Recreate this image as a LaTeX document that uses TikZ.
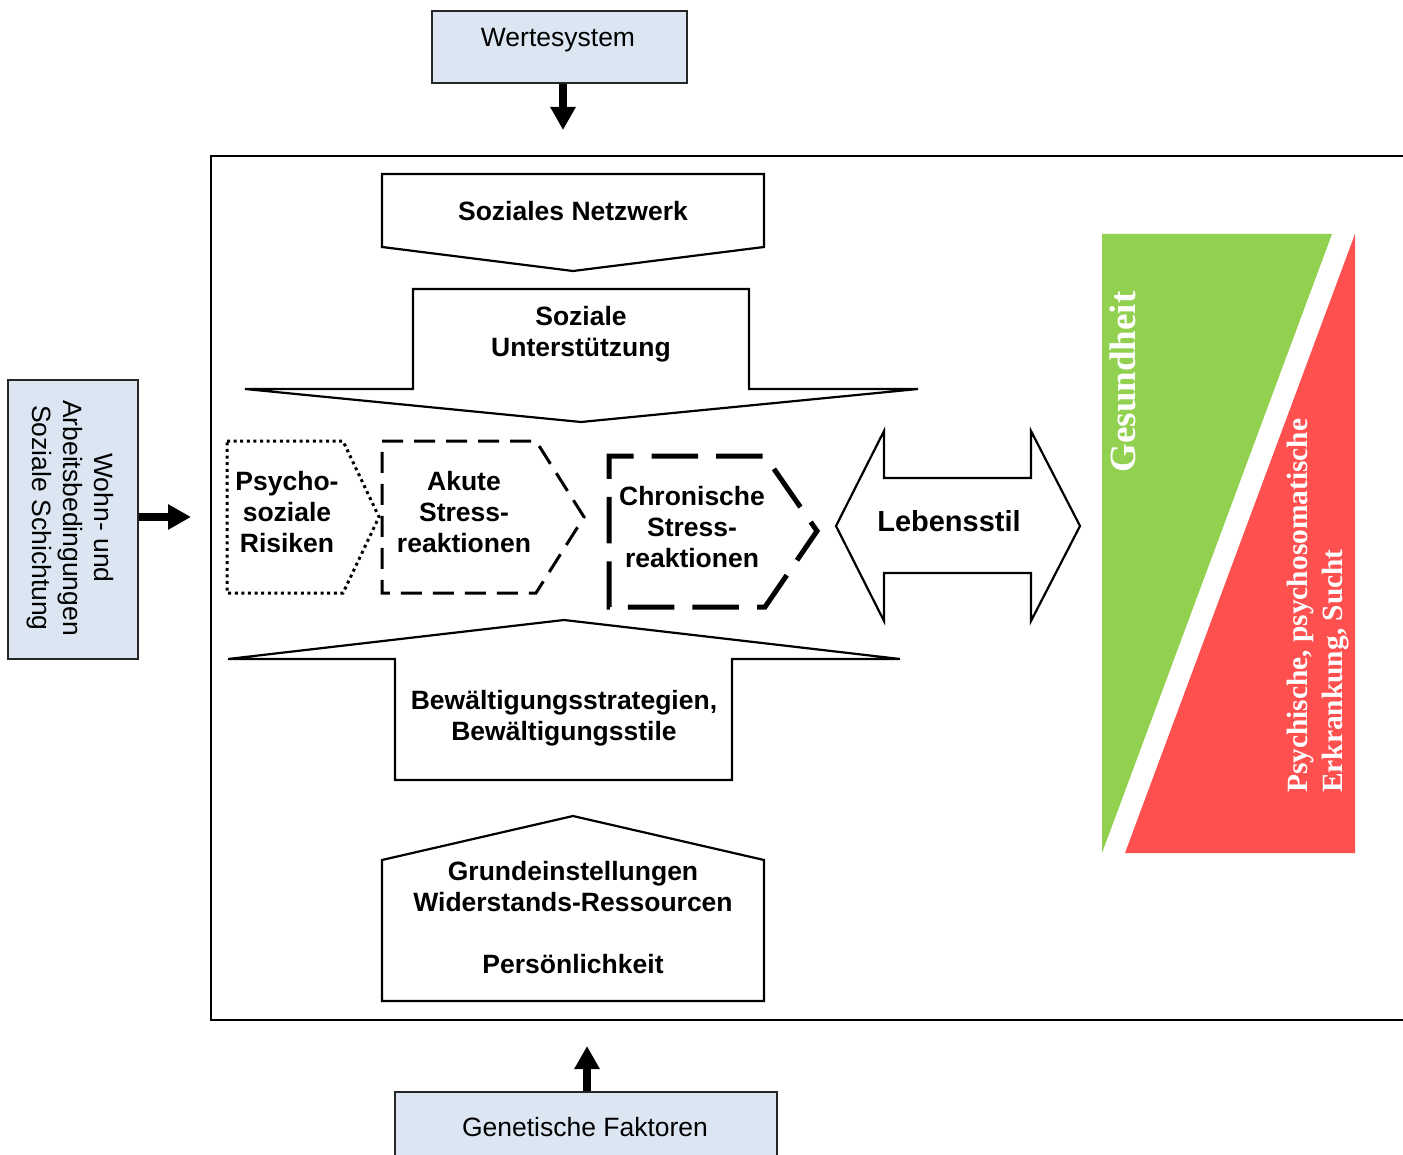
\documentclass[tikz,border=0pt]{standalone}
\usepackage{fontspec}
\setmainfont{Liberation Sans}
\newfontfamily\timesf{Liberation Serif}
\usetikzlibrary{arrows.meta}
\definecolor{boxblue}{HTML}{DCE6F2}
\definecolor{gruen}{HTML}{92D050}
\definecolor{rotfarbe}{HTML}{FF5050}
\begin{document}
\begin{tikzpicture}[x=1pt,y=-1pt,
 shp/.style={draw=black,line width=2.2pt,line join=miter},
 lbl/.style={font=\fontsize{26.5}{31}\selectfont\bfseries,align=center,inner sep=0pt},
 plain/.style={font=\fontsize{26.5}{31}\selectfont,align=center,inner sep=0pt},
 bluebox/.style={draw=black!85,line width=2pt,fill=boxblue,inner sep=0pt},
 fat/.style={line width=7.5pt,-{Triangle[length=23pt,width=24pt]}},
 serifw/.style={text=white,inner sep=0pt,align=left},
]
\useasboundingbox (0,0) rectangle (1403,1155);

% outer frame (open to the right)
\draw[line width=2pt] (1410,156) -- (211,156) -- (211,1020) -- (1410,1020);
\coordinate (frameTop) at (563,130);
\coordinate (frameLeft) at (191,517);
\coordinate (frameBottom) at (587,1046);

% outside boxes
\node[bluebox,minimum width=255pt,minimum height=72pt,anchor=north west] (wert) at (431,10) {};
\node[plain] (wertT) at (558,40) {Wertesystem};
\node[bluebox,minimum width=130pt,minimum height=279pt,anchor=north west] (wohn) at (7,379) {};
\node[plain,rotate=-90] (wohnT) at (70,518) {Wohn- und\\Arbeitsbedingungen\\Soziale Schichtung};
\node[bluebox,minimum width=382pt,minimum height=75pt,anchor=north west] (gen) at (394,1091) {};
\node[plain] (genT) at (585,1127) {Genetische Faktoren};

% arrows into the frame
\draw[fat] (wert.south -| frameTop) -- (frameTop);
\draw[fat] (wohn.east |- frameLeft) -- (frameLeft);
\draw[fat] (gen.north -| frameBottom) -- (frameBottom);

% Soziales Netzwerk
\draw[shp] (382,174) -- (764,174) -- (764,247) -- (573,271) -- (382,247) -- cycle;
\node[lbl] (netz) at (573,211) {Soziales Netzwerk};

% Soziale Unterstuetzung
\draw[shp] (413,289) -- (749,289) -- (749,389) -- (918,389) -- (581,422) -- (245,389) -- (413,389) -- cycle;
\node[lbl] (unter) at (581,334) {Soziale\\Unterstützung};

% Psychosoziale Risiken
\draw[line width=3pt,dash pattern=on 3pt off 3.6pt] (227,441) -- (343,441) -- (379,517) -- (343,593) -- (227,593) -- cycle;
\node[lbl] (psycho) at (287,512) {Psycho-\\soziale\\Risiken};

% Akute Stressreaktionen
\draw[line width=3pt,dash pattern=on 21pt off 11pt] (382,441) -- (536,441) -- (584,517) -- (536,593) -- (382,593) -- cycle;
\node[lbl] (akut) at (464,512) {Akute\\Stress-\\reaktionen};

% Chronische Stressreaktionen
\draw[line width=5pt,dash pattern=on 46.5pt off 18.06pt] (609,478) -- (609,456) -- (765,456) -- (817,531) -- (765,607) -- (609,607) -- cycle;
\node[lbl] (chron) at (692,527) {Chronische\\Stress-\\reaktionen};

% Lebensstil
\draw[shp] (836,526) -- (884,431) -- (884,478) -- (1031,478) -- (1031,431) -- (1080,526) -- (1031,621) -- (1031,573) -- (884,573) -- (884,621) -- cycle;
\node[lbl,font=\fontsize{29}{33}\selectfont\bfseries] (leben) at (949,521) {Lebensstil};

% Bewaeltigung
\draw[shp] (564,620) -- (900,659) -- (732,659) -- (732,780) -- (395,780) -- (395,659) -- (228,659) -- cycle;
\node[lbl] (bew) at (564,718) {Bewältigungsstrategien,\\Bewältigungsstile};

% Grundeinstellungen
\draw[shp] (382,860) -- (573,816) -- (764,860) -- (764,1001) -- (382,1001) -- cycle;
\node[lbl] (grund) at (573,918) {Grundeinstellungen\\Widerstands-Ressourcen\\[31pt]Persönlichkeit};

% Gesundheit / Krankheit
\fill[gruen] (1102,234) -- (1332,234) -- (1102,853) -- cycle;
\fill[rotfarbe] (1355,234) -- (1355,853) -- (1125,853) -- cycle;
\node[serifw,rotate=90,font=\timesf\bfseries\fontsize{37}{40}\selectfont] (ges) at (1123,382) {Gesundheit};
\node[serifw,rotate=90,anchor=west,font=\timesf\bfseries\fontsize{29.4}{35}\selectfont] (krank) at (1318,793) {Psychische, psychosomatische\\Erkrankung, Sucht};
\end{tikzpicture}
\end{document}
